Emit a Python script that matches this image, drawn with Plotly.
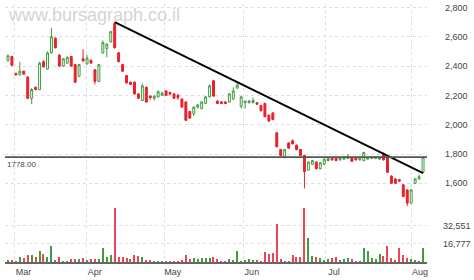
import plotly.graph_objects as go

# ---- data (trading-day index) ----
opens = [2440,2465,2350,2340,2365,2325,2180,2255,2240,2430,2380,2490,2590,2475,2400,2420,2465,2410,2330,2450,
         2415,2440,2375,2295,2490,2520,2565,2690,2490,2410,2335,2290,2290,2210,2165,2255,2195,2180,2190,2200,
         2230,2220,2210,2200,2175,2155,2090,2075,2120,2110,2145,2190,2300,2160,2155,2155,2155,2175,2250,2125,
         2150,2150,2150,2150,2130,2145,2065,2080,1945,1830,1775,1875,1890,1860,1830,1790,1690,1730,1745,1700,
         1730,1755,1770,1770,1760,1765,1770,1775,1770,1760,1755,1765,1770,1770,1765,1800,1775,1650,1630,1625,
         1590,1555,1465,1600,1630,1675]
highs = [2480,2470,2355,2430,2370,2330,2250,2260,2430,2440,2500,2660,2595,2480,2455,2465,2470,2415,2415,2515,
         2475,2445,2380,2415,2575,2555,2640,2700,2495,2415,2340,2295,2295,2215,2280,2260,2200,2200,2235,2225,
         2235,2225,2215,2210,2180,2160,2095,2125,2140,2160,2195,2275,2305,2170,2160,2160,2215,2255,2285,2195,
         2165,2170,2185,2155,2135,2150,2070,2085,1950,1835,1835,1880,1900,1865,1835,1795,1750,1760,1750,1745,
         1770,1775,1775,1775,1780,1785,1800,1780,1775,1775,1815,1780,1785,1785,1780,1810,1780,1655,1635,1630,
         1595,1560,1560,1635,1660,1780]
lows = [2430,2400,2335,2335,2340,2175,2140,2235,2235,2390,2375,2485,2520,2395,2395,2415,2395,2285,2325,2430,
        2410,2415,2275,2290,2485,2460,2560,2520,2425,2360,2280,2270,2205,2175,2160,2150,2170,2165,2185,2195,
        2195,2200,2175,2170,2115,2025,2040,2060,2110,2105,2140,2185,2190,2140,2140,2140,2150,2170,2245,2110,
        2110,2145,2145,2135,2090,2050,2020,2030,1845,1785,1770,1835,1865,1825,1785,1565,1685,1725,1695,1695,
        1725,1750,1755,1750,1755,1760,1765,1745,1755,1755,1750,1760,1765,1765,1760,1755,1670,1595,1595,1610,
        1505,1445,1460,1595,1625,1670]
closes = [2470,2405,2340,2365,2345,2180,2240,2240,2420,2395,2490,2600,2525,2400,2450,2460,2400,2290,2410,2435,
          2455,2420,2295,2410,2560,2550,2635,2525,2430,2365,2285,2275,2210,2180,2265,2155,2185,2195,2225,2215,
          2200,2210,2180,2185,2120,2030,2045,2120,2135,2155,2190,2265,2195,2145,2145,2145,2210,2230,2270,2190,
          2160,2160,2165,2140,2095,2055,2025,2035,1850,1790,1830,1840,1870,1830,1790,1680,1745,1755,1700,1740,
          1765,1770,1760,1755,1770,1775,1780,1750,1760,1770,1810,1775,1778,1778,1772,1760,1675,1600,1600,1615,
          1510,1465,1555,1630,1645,1778]
volumes = [1760,1760,880,4400,3520,6160,6160,4400,9680,7040,4400,14080,1760,4400,880,880,2640,2640,2640,3520,
           1760,2640,2640,2640,12320,4400,6160,48400,4400,4400,3520,2640,6160,5280,4400,1760,1760,880,880,880,
           880,880,880,880,1760,6160,2640,3520,2640,3520,3520,3520,4400,2640,880,880,2640,1760,9680,880,
           1760,2640,1760,1760,880,8800,7040,7920,34320,2640,880,880,6160,4400,4400,48400,22000,5280,4400,3520,
           1760,2640,3520,4400,1760,2640,3520,2640,880,880,12320,9680,3520,2640,7040,5280,14080,3520,1760,12320,
           6160,3520,2640,1760,880,12320]

month_labels = ["Mar", "Apr", "May", "Jun", "Jul", "Aug"]
month_start = [1.75, 19.75, 39.5, 59.5, 80.25, 102]

price_ticks = [1600, 1800, 2000, 2200, 2400, 2600, 2800]
volume_ticks = [16777, 32551]

trend_x = [27, 105]
trend_y = [2700, 1670]

x = list(range(len(opens)))
last_close = closes[-1]

GREEN = "#3f9c3f"
RED = "#e8202a"
vol_colors = [GREEN if c >= o else "#ee4455" for o, c in zip(opens, closes)]

fig = go.Figure()

fig.add_trace(go.Bar(
    x=x, y=volumes, yaxis="y2", width=0.28,
    marker=dict(color=vol_colors, line=dict(width=0)),
    hoverinfo="skip", showlegend=False))

fig.add_trace(go.Candlestick(
    x=x, open=opens, high=highs, low=lows, close=closes,
    increasing=dict(line=dict(color=GREEN, width=1), fillcolor="white"),
    decreasing=dict(line=dict(color=RED, width=1), fillcolor=RED),
    whiskerwidth=0, showlegend=False))

fig.add_trace(go.Scatter(
    x=trend_x, y=trend_y, mode="lines",
    line=dict(color="black", width=2), showlegend=False, hoverinfo="skip"))

fig.add_shape(type="line", xref="paper", x0=0, x1=1, yref="y",
              y0=last_close, y1=last_close,
              line=dict(color="#555555", width=1.5))

fig.add_annotation(xref="paper", x=0.0, yref="y", y=last_close,
                   text=f"{last_close:.2f}", showarrow=False,
                   xanchor="left", yanchor="top", yshift=-1,
                   font=dict(size=8, color="#444444", family="Liberation Sans"))

fig.add_annotation(xref="paper", x=0.003, yref="paper", y=1.0,
                   text="www.bursagraph.co.il", showarrow=False,
                   xanchor="left", yanchor="top", yshift=1,
                   font=dict(size=18, color="#d4d4d4", family="Liberation Sans"))

GRID = "#dedede"
fig.update_layout(
    width=474, height=280,
    margin=dict(l=5, r=42, t=3, b=13),
    paper_bgcolor="white", plot_bgcolor="white",
    font=dict(family="Liberation Sans", size=9, color="#444444"),
    bargap=0,
    xaxis=dict(
        range=[-0.75, 106], rangeslider=dict(visible=False),
        tickmode="array", tickvals=[m + 2.2 for m in month_start], ticktext=month_labels,
        showgrid=False, zeroline=False, ticks="",
        showline=True, linecolor="#666666", linewidth=1.5,
        tickfont=dict(size=9, color="#444444"), ticklabelstandoff=0,
        minor=dict(tickmode="array", tickvals=month_start, showgrid=True,
                   gridcolor=GRID, gridwidth=1, griddash="dot", ticks=""),
    ),
    yaxis=dict(
        range=[1063.3, 2823.3], side="right", tickmode="array", tickvals=price_ticks,
        tickformat=",d", showgrid=True, gridcolor=GRID, griddash="dot", zeroline=False,
        ticks="", ticklabelstandoff=17, tickfont=dict(size=9, color="#444444"),
    ),
    yaxis2=dict(
        range=[0, 232320], overlaying="y", side="right", tickmode="array",
        tickvals=volume_ticks, tickformat=",d", showgrid=True, gridcolor=GRID,
        griddash="dot", zeroline=False, ticks="", ticklabelstandoff=15,
        tickfont=dict(size=9, color="#444444"),
    ),
    shapes=[dict(type="line", xref="paper", yref="paper", x0=0, x1=1, y0=1, y1=1,
                 line=dict(color="#e6e6e6", width=1))] + list(fig.layout.shapes),
)

fig.write_html("out.html")
